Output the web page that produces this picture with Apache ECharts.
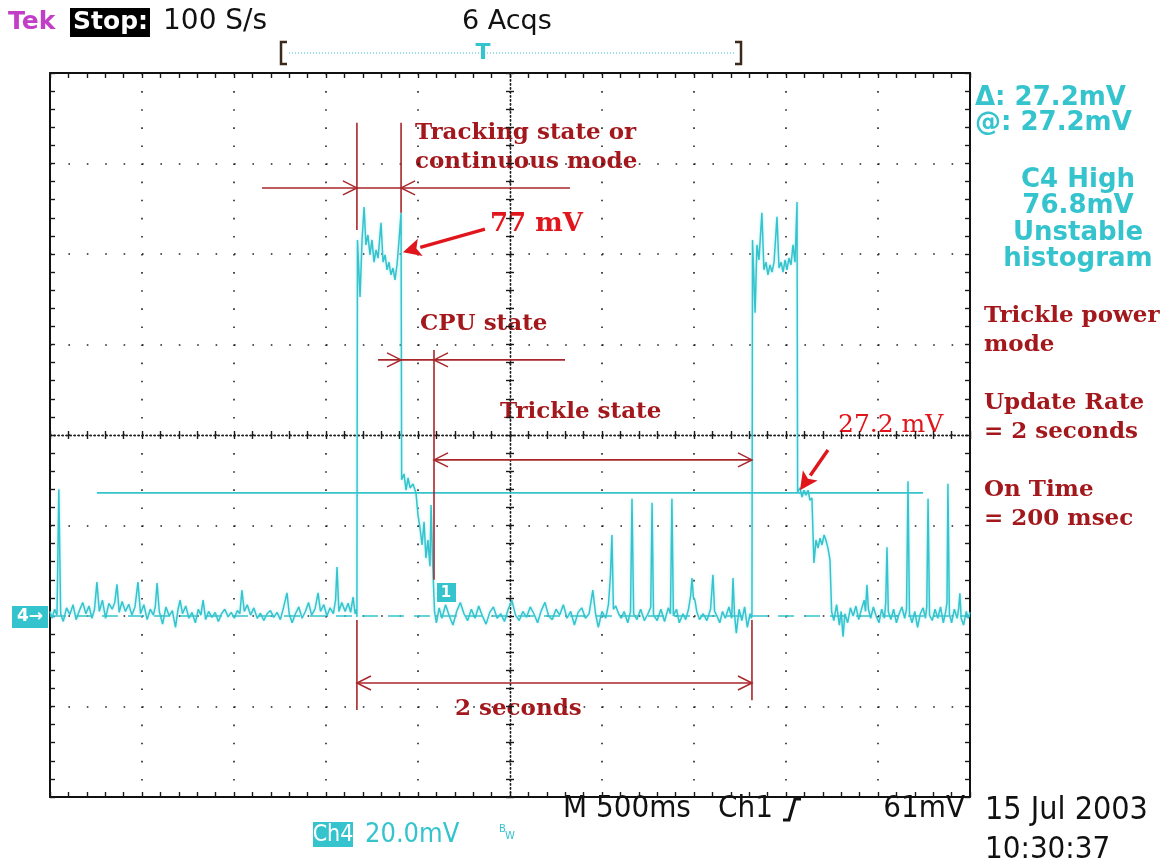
<!DOCTYPE html>
<html><head><meta charset="utf-8">
<script src="https://cdn.jsdelivr.net/npm/echarts@6/dist/echarts.min.js"></script>
<style>html,body{margin:0;padding:0;background:#fff}#c{width:1176px;height:863px}</style>
</head><body><div id="c"></div>
<script>
// ---------------- data (time in ms, voltage in mV) ----------------
const timeRangeMs = [0, 5000];
const timePerDivMs = 500;
const voltRangeMv = [-40, 120];
const voltPerDivMv = 20;

const baselineA = [
[0,1.0],[12,-0.5],[25,1.5],[38,0.2],[48,28.0],[58,0.5],[72,-1.2],[90,1.8],[108,0.3],[125,2.5],[142,-0.8],[160,1.2],[178,3.0],[195,0.5],[212,2.2],[228,-0.5],[242,1.5],[255,7.5],[268,1.0],[285,3.5],[302,-0.5],[320,2.8],[338,1.5],[352,3.0],[364,7.0],[376,0.8],[392,3.2],[410,1.0],[428,2.6],[445,0.2],[462,2.0],[478,7.5],[492,0.5],[510,2.5],[528,-0.8],[545,1.5],[562,0.2],[572,2.0],[582,7.3],[594,1.0],[612,-1.8],[630,2.0],[648,0.0],[665,1.2],[682,-2.5],[696,1.5],[707,3.5],[720,0.5],[738,2.2],[755,-0.5],[772,0.8],[790,-1.5],[806,1.5],[820,0.2],[832,3.5],[846,-0.8],[862,1.0],[880,-0.3],[898,0.8],[915,-1.2],[932,0.5],[950,1.5],[968,-0.2],[985,0.8],[1002,-0.5],[1018,1.2],[1032,0.5],[1043,5.7],[1056,1.0],[1072,2.5],[1090,0.2],[1108,1.8],[1126,-0.5],[1144,0.6],[1162,-1.0],[1180,0.5],[1198,1.2],[1216,-0.3],[1234,0.8],[1252,-0.8],[1270,2.0],[1288,5.1],[1300,0.5],[1316,-1.5],[1334,0.5],[1352,2.0],[1370,-0.5],[1388,1.0],[1405,3.0],[1422,0.2],[1440,1.5],[1457,5.1],[1470,1.0],[1488,2.5],[1505,0.0],[1522,1.8],[1540,0.5],[1552,3.5],[1560,10.8],[1570,1.0],[1586,3.0],[1604,1.0],[1620,2.8],[1634,0.8],[1647,4.2],[1658,0.5],[1666,1.5]
];
const pulseA = [
[1668,-0.2],[1671,83.1],[1685,70.5],[1696,83.1],[1707,90.4],[1717,82.0],[1728,84.2],[1739,79.8],[1750,83.1],[1761,78.2],[1772,80.9],[1783,79.1],[1799,86.9],[1810,78.2],[1821,79.8],[1832,76.5],[1842,78.2],[1853,75.4],[1864,76.9],[1875,74.3],[1886,77.6],[1897,83.1],[1908,89.1],[1911,30.1],[1924,31.4],[1935,27.8],[1946,30.5],[1957,28.3],[1973,29.2],[1989,27.2],[2000,22.3],[2011,19.4],[2022,15.7],[2033,20.8],[2043,12.8],[2054,16.8],[2065,11.0],[2071,24.5],[2080,11.3],[2090,0.9]
];
const baselineB = [
[2100,-1.5],[2115,1.8],[2130,-0.5],[2150,2.5],[2170,0.0],[2190,-2.0],[2210,1.0],[2230,3.0],[2250,0.5],[2270,-1.0],[2290,1.5],[2310,-0.5],[2330,2.2],[2350,0.0],[2370,-1.8],[2390,0.8],[2410,2.0],[2430,-0.5],[2450,0.5],[2470,-1.2],[2490,1.5],[2510,3.5],[2530,0.2],[2550,-1.0],[2570,1.0],[2590,-0.3],[2610,2.0],[2630,0.5],[2650,-1.5],[2670,1.2],[2690,3.0],[2710,0.0],[2730,-0.8],[2750,1.5],[2770,0.2],[2790,2.5],[2810,-0.5],[2830,1.0],[2850,-2.0],[2870,0.8],[2890,1.8],[2910,-0.5],[2930,0.5],[2950,5.7],[2965,0.5],[2980,-2.5],[3000,1.0],[3020,-0.5],[3035,2.5],[3046,9.0],[3054,17.9],[3062,1.5],[3075,2.2],[3090,0.5],[3105,-0.5],[3120,1.0],[3140,-1.5],[3155,1.0],[3163,25.9],[3172,0.5],[3190,-0.8],[3210,1.5],[3230,-1.0],[3250,0.5],[3265,2.0],[3272,25.0],[3280,0.2],[3300,-1.0],[3320,1.5],[3340,-1.2],[3360,1.8],[3372,0.5],[3380,25.9],[3388,0.0],[3405,1.5],[3420,-1.5],[3440,0.5],[3455,-0.8],[3470,1.5],[3482,4.5],[3489,8.4],[3497,4.0],[3505,3.5],[3515,1.0],[3530,-0.8],[3550,0.5],[3570,-1.0],[3590,1.5],[3603,9.1],[3612,1.0],[3625,0.0],[3640,-1.5],[3655,1.0],[3670,-0.5],[3690,2.0],[3705,-0.5],[3712,8.4],[3720,0.5],[3730,-3.8],[3745,1.5],[3760,-1.0],[3775,2.0],[3790,-2.5],[3805,0.5],[3812,-0.5]
];
const pulseB = [
[3815,0.2],[3818,83.1],[3832,67.0],[3842,82.0],[3853,78.7],[3869,89.1],[3880,76.5],[3891,78.2],[3902,75.4],[3913,77.6],[3924,76.0],[3935,78.2],[3951,88.2],[3962,76.9],[3973,78.2],[3984,76.0],[3995,78.7],[4005,76.5],[4016,79.1],[4027,77.6],[4038,82.0],[4049,78.2],[4060,91.5],[4063,27.4],[4076,28.3],[4087,26.3],[4098,27.8],[4109,26.7],[4120,27.8],[4130,25.6],[4141,26.1],[4147,17.9],[4152,11.7],[4163,16.8],[4174,15.0],[4185,17.2],[4196,15.7],[4207,17.9],[4217,16.8],[4228,15.0],[4239,12.4],[4248,0.9]
];
const baselineC = [
[4260,-1.0],[4275,2.5],[4290,-2.0],[4300,1.0],[4310,-4.6],[4320,0.5],[4335,-1.5],[4350,1.8],[4365,0.0],[4380,2.2],[4395,-0.8],[4410,1.5],[4425,3.5],[4432,1.0],[4440,6.9],[4448,1.5],[4460,-0.5],[4475,2.0],[4490,0.0],[4505,-1.5],[4520,1.5],[4535,-0.5],[4542,3.0],[4549,15.2],[4556,1.0],[4570,-0.8],[4585,1.5],[4600,-1.5],[4615,0.5],[4630,2.0],[4645,-0.5],[4655,1.5],[4663,29.8],[4671,0.5],[4685,-1.5],[4700,1.0],[4715,-2.5],[4730,0.5],[4745,1.8],[4758,-0.5],[4765,2.0],[4772,25.9],[4780,0.2],[4795,-1.0],[4810,1.5],[4825,-0.5],[4840,2.0],[4855,-1.5],[4868,1.0],[4875,3.0],[4880,29.2],[4888,0.5],[4900,-1.5],[4915,1.5],[4930,-0.5],[4938,1.5],[4945,5.0],[4952,-0.5],[4965,-2.0],[4980,1.0],[4990,-0.5],[5000,0.8]
];

const cursorLevelMv = 27.2;
const cursorSpanMs = [255, 4745];
const groundLevelMv = 0;

// dimension lines: horizontal [fromMs, toMs, levelMv], arrow heads [atMs, direction]
const dimHorizontal = [
  {from: 1152, to: 2826, level: 94.6, heads: [[1668, 'right'], [1908, 'left']]},
  {from: 1783, to: 2799, level: 56.6, heads: [[1908, 'right'], [2087, 'left']]},
  {from: 2087, to: 3815, level: 34.5, heads: [[2087, 'left'], [3815, 'right']]},
  {from: 1668, to: 3815, level: -14.8, heads: [[1668, 'left'], [3815, 'right']]}
];
// vertical markers [atMs, topMv, bottomMv]
const dimVertical = [
  [1668, 109.0, 85.3],
  [1908, 109.0, 89.1],
  [2087, 58.8, 8.0],
  [1668, -0.9, -20.8],
  [3815, -0.9, -18.6]
];
// pointer arrows [fromMs, fromMv, toMs, toMv]
const pointerArrows = [
  [2364, 85.5, 1918, 80.4],
  [4228, 36.7, 4076, 27.8]
];

// ---------------- chart ----------------
const CYAN = '#35c4cd';
const DIMRED = '#a8272b';
const RED = '#e0161c';
const TXTRED = '#a3181c';
const SERIF = 'bold 23px "DejaVu Serif", "Liberation Serif", serif';
const SCOPE = '"DejaVu Sans", sans-serif';
const NARROW = '"DejaVu Sans Condensed", "Liberation Sans Narrow", "DejaVu Sans", sans-serif';

const trace = baselineA.concat(pulseA, baselineB, pulseB, baselineC);

const tickStyle = {color: '#1a1a1a', width: 1.4};
function edgeX(pos, withSplit) {
  return {
    type: 'value', position: pos, min: timeRangeMs[0], max: timeRangeMs[1], interval: timePerDivMs,
    axisLine: {show: true, onZero: false, lineStyle: {color: '#111', width: 2}},
    axisTick: {show: true, inside: true, length: 5, lineStyle: tickStyle},
    minorTick: {show: true, splitNumber: 5, length: 5, lineStyle: tickStyle},
    axisLabel: {show: false},
    splitLine: {show: withSplit, lineStyle: {color: '#222', width: 1.6, type: [1.6, 16.5]}}
  };
}
function edgeY(pos, withSplit) {
  return {
    type: 'value', position: pos, min: voltRangeMv[0], max: voltRangeMv[1], interval: voltPerDivMv,
    axisLine: {show: true, onZero: false, lineStyle: {color: '#111', width: 2}},
    axisTick: {show: true, inside: true, length: 5, lineStyle: tickStyle},
    minorTick: {show: true, splitNumber: 5, length: 5, lineStyle: tickStyle},
    axisLabel: {show: false},
    splitLine: {show: withSplit, lineStyle: {color: '#222', width: 1.6, type: [1.6, 16.8]}}
  };
}
function centerX(inside) {
  return {
    type: 'value', position: 'bottom', offset: -362, min: timeRangeMs[0], max: timeRangeMs[1], interval: timePerDivMs,
    axisLine: {show: true, onZero: false, lineStyle: {color: '#222', width: 1.4, type: [1.4, 2.6]}},
    axisTick: {show: true, inside: inside, length: 4, lineStyle: tickStyle},
    minorTick: {show: true, splitNumber: 5, length: 4, lineStyle: tickStyle},
    axisLabel: {show: false}, splitLine: {show: false}
  };
}
function centerY(inside) {
  return {
    type: 'value', position: 'left', offset: -460, min: voltRangeMv[0], max: voltRangeMv[1], interval: voltPerDivMv,
    axisLine: {show: true, onZero: false, lineStyle: {color: '#222', width: 1.4, type: [1.4, 2.6]}},
    axisTick: {show: true, inside: inside, length: 4, lineStyle: tickStyle},
    minorTick: {show: true, splitNumber: 5, length: 4, lineStyle: tickStyle},
    axisLabel: {show: false}, splitLine: {show: false}
  };
}

function chevron(tip, dir) {
  // dir: 'right' -> wings to the left
  const s = dir === 'right' ? -1 : 1;
  return {type: 'polyline', shape: {points: [[tip[0] + s * 14, tip[1] - 7], tip, [tip[0] + s * 14, tip[1] + 7]]},
    style: {stroke: DIMRED, fill: null, lineWidth: 1.5}};
}

function renderHDim(params, api) {
  const d = dimHorizontal[params.dataIndex];
  const p1 = api.coord([d.from, d.level]);
  const p2 = api.coord([d.to, d.level]);
  const children = [{type: 'line', shape: {x1: p1[0], y1: p1[1], x2: p2[0], y2: p2[1]}, style: {stroke: DIMRED, lineWidth: 1.6}}];
  d.heads.forEach(h => children.push(chevron(api.coord([h[0], d.level]), h[1])));
  return {type: 'group', children};
}
function renderVDim(params, api) {
  const d = dimVertical[params.dataIndex];
  const p1 = api.coord([d[0], d[1]]);
  const p2 = api.coord([d[0], d[2]]);
  return {type: 'line', shape: {x1: p1[0], y1: p1[1], x2: p2[0], y2: p2[1]}, style: {stroke: DIMRED, lineWidth: 1.6}};
}
function renderPointer(params, api) {
  const d = pointerArrows[params.dataIndex];
  const a = api.coord([d[0], d[1]]);
  const b = api.coord([d[2], d[3]]);
  const dx = b[0] - a[0], dy = b[1] - a[1];
  const len = Math.sqrt(dx * dx + dy * dy);
  const ux = dx / len, uy = dy / len;
  const hl = 18, hw = 9;
  const base = [b[0] - ux * hl, b[1] - uy * hl];
  return {type: 'group', children: [
    {type: 'line', shape: {x1: a[0], y1: a[1], x2: base[0], y2: base[1]}, style: {stroke: RED, lineWidth: 3.4}},
    {type: 'polygon', shape: {points: [b, [base[0] - uy * hw, base[1] + ux * hw], [base[0] + ux * 4, base[1] + uy * 4], [base[0] + uy * hw, base[1] - ux * hw]]},
      style: {fill: RED}}
  ]};
}

function txt(text, x, y, font, fill, align) {
  return {type: 'text', x: x, y: y, silent: true,
    style: {text: text, font: font, fill: fill, align: align || 'left', verticalAlign: 'middle'}};
}

const graphics = [
  // header
  txt('Tek', 8, 22, 'bold 25px ' + SCOPE, '#c23ec6'),
  {type: 'rect', shape: {x: 70, y: 8, width: 80, height: 29}, style: {fill: '#000'}},
  txt('Stop:', 73, 22, 'bold 25px ' + SCOPE, '#fff'),
  txt('100 S/s', 163, 22, '28px ' + SCOPE, '#111'),
  txt('6 Acqs', 462, 22, '27px ' + SCOPE, '#111'),
  {type: 'polyline', shape: {points: [[287, 42], [281, 42], [281, 64], [287, 64]]}, style: {stroke: '#3b2a1c', lineWidth: 2.5, fill: null}},
  {type: 'polyline', shape: {points: [[735, 42], [741, 42], [741, 64], [735, 64]]}, style: {stroke: '#3b2a1c', lineWidth: 2.5, fill: null}},
  {type: 'line', shape: {x1: 289, y1: 53, x2: 734, y2: 53}, style: {stroke: CYAN, lineWidth: 1.2, lineDash: [1, 2]}},
  txt('T', 483, 53, 'bold 22px ' + SCOPE, CYAN, 'center'),
  // right cyan readouts
  txt('\u0394: 27.2mV', 975, 98, 'bold 26px ' + SCOPE, CYAN),
  txt('@: 27.2mV', 975, 123, 'bold 26px ' + SCOPE, CYAN),
  txt('C4 High', 1078, 180, 'bold 26px ' + SCOPE, CYAN, 'center'),
  txt('76.8mV', 1078, 206, 'bold 26px ' + SCOPE, CYAN, 'center'),
  txt('Unstable', 1078, 233, 'bold 26px ' + SCOPE, CYAN, 'center'),
  txt('histogram', 1078, 259, 'bold 26px ' + SCOPE, CYAN, 'center'),
  // right red notes
  txt('Trickle power', 984, 316, SERIF, TXTRED),
  txt('mode', 984, 345, SERIF, TXTRED),
  txt('Update Rate', 984, 403, SERIF, TXTRED),
  txt('= 2 seconds', 984, 432, SERIF, TXTRED),
  txt('On Time', 984, 490, SERIF, TXTRED),
  txt('= 200 msec', 984, 519, SERIF, TXTRED),
  // in-plot annotations
  txt('Tracking state or', 415, 133, SERIF, TXTRED),
  txt('continuous mode', 415, 162, SERIF, TXTRED),
  txt('77 mV', 490, 224, 'bold 26px "DejaVu Serif", serif', RED),
  txt('CPU state', 420, 324, SERIF, TXTRED),
  txt('Trickle state', 500, 412, SERIF, TXTRED),
  txt('27.2 mV', 838, 425, '25px "DejaVu Serif", serif', RED),
  txt('2 seconds', 455, 709, SERIF, TXTRED),
  // markers
  {type: 'rect', shape: {x: 12, y: 606, width: 36, height: 22}, style: {fill: CYAN}},
  txt('4\u2192', 30, 617, 'bold 17px ' + SCOPE, '#fff', 'center'),
  {type: 'rect', shape: {x: 437, y: 583, width: 19, height: 19}, style: {fill: CYAN}},
  txt('1', 446, 593, 'bold 15px ' + SCOPE, '#fff', 'center'),
  // bottom readouts
  txt('M 500ms', 563, 809, '31px ' + NARROW, '#111'),
  txt('Ch1', 718, 809, '31px ' + NARROW, '#111'),
  {type: 'polyline', shape: {points: [[783, 820], [789, 820], [795, 799], [801, 799]]}, style: {stroke: '#111', lineWidth: 3, fill: null}},
  txt('61mV', 965, 809, '31px ' + NARROW, '#111', 'right'),
  txt('15 Jul 2003', 985, 811, '32px ' + NARROW, '#111'),
  txt('10:30:37', 985, 850, '31px ' + NARROW, '#111'),
  {type: 'rect', shape: {x: 313, y: 822, width: 40, height: 25}, style: {fill: CYAN}},
  txt('Ch4', 333, 835, '23px ' + NARROW, '#fff', 'center'),
  txt('20.0mV', 365, 835, '27px ' + NARROW, CYAN),
  txt('B', 499, 829, '10px ' + SCOPE, CYAN),
  txt('W', 505, 836, '10px ' + SCOPE, CYAN)
];

const chart = echarts.init(document.getElementById('c'), null, {renderer: 'canvas'});
chart.setOption({
  backgroundColor: '#fff',
  animation: false,
  grid: {left: 50, top: 73, width: 920, height: 724, containLabel: false},
  xAxis: [edgeX('bottom', true), edgeX('top', false), centerX(true), centerX(false)],
  yAxis: [edgeY('left', true), edgeY('right', false), centerY(true), centerY(false)],
  series: [
    {type: 'line', name: 'ground', data: [[timeRangeMs[0], groundLevelMv], [timeRangeMs[1], groundLevelMv]],
      showSymbol: false, silent: true, z: 2,
      lineStyle: {color: CYAN, width: 1.5, type: [16, 10]}},
    {type: 'line', name: 'cursor', data: [[cursorSpanMs[0], cursorLevelMv], [cursorSpanMs[1], cursorLevelMv]],
      showSymbol: false, silent: true, z: 3,
      lineStyle: {color: CYAN, width: 1.6}},
    {type: 'line', name: 'Ch4', data: trace, showSymbol: false, silent: true, z: 4,
      lineStyle: {color: CYAN, width: 1.5, shadowColor: 'rgba(80,210,220,0.45)', shadowBlur: 3}},
    {type: 'custom', name: 'hdims', renderItem: renderHDim, clip: false, silent: true, z: 5,
      data: dimHorizontal.map(d => [d.from, d.level])},
    {type: 'custom', name: 'vdims', renderItem: renderVDim, clip: false, silent: true, z: 5,
      data: dimVertical.map(d => [d[0], d[1]])},
    {type: 'custom', name: 'pointers', renderItem: renderPointer, clip: false, silent: true, z: 6,
      data: pointerArrows.map(d => [d[2], d[3]])}
  ],
  graphic: graphics
});
</script>
</body></html>
